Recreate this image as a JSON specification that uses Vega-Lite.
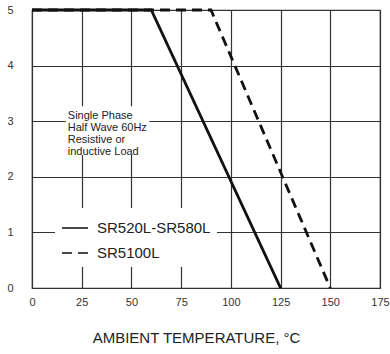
{
  "$schema": "https://vega.github.io/schema/vega-lite/v6.json",
  "width": 348,
  "height": 278,
  "autosize": {"type": "none"},
  "padding": {"left": 32, "top": 10, "right": 10, "bottom": 66},
  "config": {
    "font": "Liberation Sans",
    "view": {"stroke": "#333", "strokeWidth": 1.2},
    "axis": {
      "grid": true, "gridColor": "#333", "gridOpacity": 1, "gridWidth": 1.2,
      "domain": false, "ticks": false,
      "labelFont": "Liberation Sans", "labelFontSize": 11, "labelColor": "#333",
      "labelFlush": false, "labelOverlap": false
    }
  },
  "encoding": {
    "x": {
      "field": "x", "type": "quantitative",
      "scale": {"domain": [0, 175], "nice": false, "zero": false},
      "axis": {
        "values": [0, 25, 50, 75, 100, 125, 150, 175],
        "labelPadding": 8,
        "title": "AMBIENT TEMPERATURE, °C",
        "titleFont": "Liberation Sans", "titleFontSize": 15, "titleFontWeight": "normal",
        "titleColor": "#222", "titlePadding": 23, "titleX": 164, "titleAnchor": "start", "titleAlign": "center"
      }
    },
    "y": {
      "field": "y", "type": "quantitative",
      "scale": {"domain": [0, 5], "nice": false},
      "axis": {"values": [0, 1, 2, 3, 4, 5], "labelPadding": 19, "title": null}
    }
  },
  "layer": [
    {
      "data": {"values": [
        {"x": 17, "x2": 59, "y": 2.39, "y2": 3.27}
      ]},
      "mark": {"type": "rect", "fill": "white"},
      "encoding": {
        "x2": {"field": "x2"},
        "y2": {"field": "y2"}
      }
    },
    {
      "data": {"values": [
        {"x": 18, "y": 3.2, "label": "Single Phase\nHalf Wave 60Hz\nResistive or\ninductive Load"}
      ]},
      "mark": {"type": "text", "align": "left", "baseline": "top", "lineBreak": "\n", "fontSize": 11, "lineHeight": 12, "color": "#222", "font": "Liberation Sans"},
      "encoding": {
        "text": {"field": "label"}
      }
    },
    {
      "data": {"values": [
        {"series": "SR5100L", "x": 0, "y": 5},
        {"series": "SR5100L", "x": 90, "y": 5},
        {"series": "SR5100L", "x": 150, "y": 0},
        {"series": "SR520L-SR580L", "x": 0, "y": 5},
        {"series": "SR520L-SR580L", "x": 60, "y": 5},
        {"series": "SR520L-SR580L", "x": 125, "y": 0}
      ]},
      "mark": {"type": "line", "color": "#111", "strokeWidth": 2.8},
      "encoding": {
        "strokeDash": {
          "field": "series", "type": "nominal",
          "scale": {"domain": ["SR520L-SR580L", "SR5100L"], "range": [[1, 0], [10, 6]]},
          "legend": {
            "orient": "none", "legendX": 23, "legendY": 198,
            "title": null, "fillColor": "white", "padding": 6,
            "labelFont": "Liberation Sans", "labelFontSize": 15, "labelColor": "#222",
            "labelOffset": 8, "rowPadding": 3,
            "symbolType": "stroke", "symbolSize": 676, "symbolStrokeWidth": 1.5,
            "symbolStrokeColor": "#111"
          }
        }
      }
    }
  ]
}
